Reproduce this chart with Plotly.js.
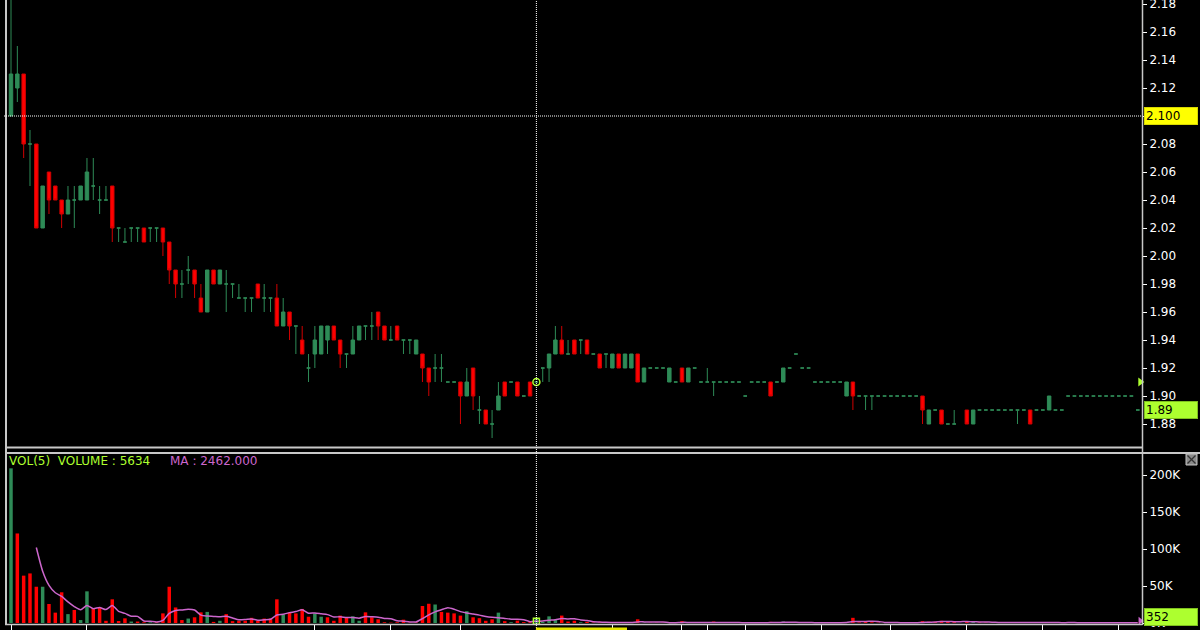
<!DOCTYPE html>
<html><head><meta charset="utf-8">
<script src="https://cdn.plot.ly/plotly-3.0.1.min.js"></script>
<style>html,body{margin:0;padding:0;background:#000;}#chart{width:1200px;height:630px;}</style>
</head><body><div id="chart"></div>
<script>
// ---- data ----
const openP = [
2.10,2.12,2.13,2.08,2.08,2.02,2.06,2.05,2.04,2.03,
2.04,2.04,2.04,2.05,2.04,2.04,2.05,2.02,2.01,2.02,
2.02,2.02,2.02,2.02,2.02,2.01,1.99,1.98,1.99,1.99,
1.97,1.96,1.99,1.98,1.98,1.98,1.97,1.97,1.97,1.98,
1.97,1.97,1.97,1.95,1.96,1.95,1.94,1.92,1.93,1.93,
1.94,1.95,1.94,1.93,1.93,1.94,1.95,1.95,1.96,1.95,
1.94,1.95,1.94,1.94,1.93,1.93,1.92,1.92,1.92,1.91,
1.91,1.91,1.90,1.92,1.89,1.89,1.88,1.89,1.91,1.91,
1.91,1.90,1.91,1.91,1.92,1.92,1.93,1.94,1.93,1.94,
1.94,1.94,1.93,1.93,1.93,1.92,1.93,1.92,1.92,1.93,
1.91,1.92,1.92,1.92,1.91,1.91,1.92,1.91,1.92,1.91,
1.91,1.91,1.91,1.91,1.91,1.91,1.90,1.91,1.91,1.91,
1.91,1.91,1.91,1.92,1.93,1.92,1.92,1.91,1.91,1.91,
1.91,1.91,1.90,1.91,1.90,1.90,1.90,1.90,1.90,1.90,
1.90,1.90,1.90,1.90,1.90,1.88,1.89,1.89,1.88,1.88,
null,1.89,1.88,1.89,1.89,1.89,1.89,1.89,1.89,1.89,
1.89,1.89,1.89,1.89,1.89,1.89,1.89,1.90,1.90,1.90,
1.90,1.90,1.90,1.90,1.90,1.90,1.90,1.90,1.89];
const highP = [
2.19,2.15,2.13,2.09,2.08,2.05,2.06,2.05,2.04,2.05,
2.05,2.05,2.07,2.07,2.05,2.05,2.05,2.02,2.02,2.02,
2.02,2.02,2.02,2.02,2.02,2.01,1.99,1.99,2.00,1.99,
1.98,1.99,1.99,1.99,1.99,1.98,1.98,1.97,1.97,1.98,
1.98,1.97,1.98,1.97,1.96,1.95,1.95,1.93,1.95,1.95,
1.95,1.95,1.94,1.93,1.95,1.95,1.95,1.96,1.96,1.95,
1.95,1.95,1.94,1.94,1.94,1.93,1.92,1.93,1.93,1.91,
1.91,1.91,1.92,1.92,1.90,1.89,1.89,1.91,1.91,1.91,
1.91,1.90,1.91,1.91,1.92,1.93,1.95,1.95,1.94,1.94,
1.94,1.94,1.93,1.93,1.93,1.93,1.93,1.93,1.93,1.93,
1.92,1.92,1.92,1.92,1.92,1.91,1.92,1.92,1.92,1.91,
1.92,1.91,1.91,1.91,1.91,1.91,1.90,1.91,1.91,1.91,
1.91,1.91,1.92,1.92,1.93,1.92,1.92,1.91,1.91,1.91,
1.91,1.91,1.91,1.91,1.90,1.90,1.90,1.90,1.90,1.90,
1.90,1.90,1.90,1.90,1.90,1.89,1.89,1.89,1.88,1.89,
null,1.89,1.89,1.89,1.89,1.89,1.89,1.89,1.89,1.89,
1.89,1.89,1.89,1.89,1.90,1.89,1.89,1.90,1.90,1.90,
1.90,1.90,1.90,1.90,1.90,1.90,1.90,1.90,1.89];
const lowP = [
2.10,2.11,2.07,2.05,2.02,2.02,2.03,2.04,2.02,2.03,
2.02,2.04,2.04,2.04,2.03,2.04,2.01,2.01,2.01,2.01,
2.01,2.01,2.01,2.01,2.00,1.98,1.97,1.97,1.98,1.97,
1.96,1.96,1.98,1.98,1.96,1.97,1.97,1.96,1.96,1.97,
1.96,1.96,1.95,1.95,1.94,1.93,1.93,1.91,1.92,1.93,
1.93,1.94,1.92,1.92,1.93,1.94,1.94,1.94,1.94,1.94,
1.94,1.94,1.93,1.93,1.93,1.91,1.90,1.91,1.91,1.91,
1.91,1.88,1.90,1.89,1.88,1.88,1.87,1.89,1.90,1.91,
1.90,1.90,1.90,1.91,1.91,1.91,1.93,1.93,1.93,1.93,
1.93,1.93,1.93,1.92,1.92,1.92,1.92,1.92,1.92,1.91,
1.91,1.92,1.92,1.92,1.91,1.91,1.91,1.91,1.92,1.91,
1.91,1.90,1.91,1.91,1.91,1.91,1.90,1.91,1.91,1.91,
1.90,1.91,1.91,1.92,1.93,1.92,1.92,1.91,1.91,1.91,
1.91,1.91,1.90,1.89,1.90,1.89,1.89,1.90,1.90,1.90,
1.90,1.90,1.90,1.90,1.88,1.88,1.89,1.88,1.88,1.88,
null,1.88,1.88,1.89,1.89,1.89,1.89,1.89,1.89,1.88,
1.89,1.88,1.89,1.89,1.89,1.89,1.89,1.90,1.90,1.90,
1.90,1.90,1.90,1.90,1.90,1.90,1.90,1.90,1.89];
const closeP = [
2.13,2.13,2.08,2.08,2.02,2.05,2.04,2.04,2.03,2.04,
2.04,2.05,2.06,2.05,2.04,2.04,2.02,2.02,2.01,2.02,
2.02,2.01,2.02,2.02,2.01,1.99,1.98,1.98,1.99,1.98,
1.96,1.99,1.98,1.99,1.98,1.98,1.97,1.97,1.97,1.97,
1.97,1.97,1.95,1.96,1.95,1.95,1.93,1.92,1.94,1.95,
1.95,1.94,1.93,1.93,1.94,1.95,1.95,1.95,1.95,1.94,
1.94,1.94,1.94,1.94,1.94,1.92,1.91,1.92,1.92,1.91,
1.91,1.90,1.91,1.90,1.89,1.88,1.88,1.90,1.90,1.91,
1.90,1.90,1.90,1.91,1.92,1.93,1.94,1.93,1.93,1.93,
1.94,1.93,1.93,1.92,1.93,1.93,1.92,1.93,1.93,1.91,
1.92,1.92,1.92,1.92,1.92,1.91,1.91,1.92,1.92,1.91,
1.91,1.91,1.91,1.91,1.91,1.91,1.90,1.91,1.91,1.91,
1.90,1.91,1.92,1.92,1.93,1.92,1.92,1.91,1.91,1.91,
1.91,1.91,1.91,1.90,1.90,1.90,1.90,1.90,1.90,1.90,
1.90,1.90,1.90,1.90,1.89,1.89,1.89,1.88,1.88,1.88,
null,1.88,1.89,1.89,1.89,1.89,1.89,1.89,1.89,1.89,
1.89,1.88,1.89,1.89,1.90,1.89,1.89,1.90,1.90,1.90,
1.90,1.90,1.90,1.90,1.90,1.90,1.90,1.90,1.89];
const volume = [
209000,121000,64000,67000,49000,49000,25700,14000,41500,12000,
17600,4000,42800,19800,21000,3000,32000,2700,6300,2000,
2000,1000,1000,1000,13000,49000,21000,4000,6000,7700,
14400,15000,1500,3000,12000,2500,3000,3000,7000,3000,
6000,6000,32000,12000,14000,13000,19000,8500,13000,8500,
7700,3000,10000,7700,9000,3000,14400,7700,5000,1000,
500,1000,4500,500,800,23000,26000,25000,15000,14000,
13000,10000,16000,7700,6500,3000,5000,14000,2500,1100,
3200,1200,1176,5634,1500,9000,5000,10000,2000,3000,
1000,1500,600,800,500,600,900,400,700,5000,
600,300,400,300,500,400,2500,500,300,400,
300,2000,300,200,300,200,500,300,200,300,
1500,300,2000,400,300,500,400,300,500,300,
600,400,1200,7000,800,1500,1000,500,400,300,
500,400,300,500,2500,1800,1500,3000,1500,1200,
null,2500,1500,800,600,500,400,600,500,1000,
400,1200,300,400,1000,300,200,800,300,200,
300,200,300,200,300,200,300,500,352];
const priceTicks = [1.88,1.90,1.92,1.94,1.96,1.98,2.00,2.02,2.04,2.06,2.08,2.10,2.12,2.14,2.16,2.18];
const volTicks = [0,50000,100000,150000,200000];
const volTickText = ['0K','50K','100K','150K','200K'];
const timeTicks = [0,12,48,60,71,95,106,110,116,128,139,151,163,175];
const cursorIndex = 83;
const cursorPrice = 2.10;
const markerPrice = 1.91;
const maPeriod = 5;

// ---- derived ----
const N = closeP.length;
const idx = [...Array(N).keys()];
const valid = idx.filter(i => closeP[i] !== null);
const upIdx = valid.filter(i => closeP[i] >= openP[i]);
const dnIdx = valid.filter(i => closeP[i] < openP[i]);
const pick = (arr, ids) => ids.map(i => arr[i]);
const GREEN = '#2e8b57', RED = '#ff0000', VIOLET = '#cc66cc', LIME = '#adff2f';

let prevC = null;
const volColor = idx.map(i => {
  const c = closeP[i];
  const col = (prevC === null || (c !== null && c > prevC)) ? GREEN : RED;
  if (c !== null) prevC = c;
  return col;
});
const ma = idx.map(i => {
  if (i < maPeriod - 1) return null;
  const w = volume.slice(i - maPeriod + 1, i + 1).filter(v => v !== null);
  return w.reduce((a, b) => a + b, 0) / w.length;
});

function candle(ids, fill, line) {
  return {
    type: 'candlestick', x: ids,
    open: pick(openP, ids), high: pick(highP, ids), low: pick(lowP, ids), close: pick(closeP, ids),
    xaxis: 'x', yaxis: 'y', whiskerwidth: 0, hoverinfo: 'skip', showlegend: false,
    increasing: { line: { color: line, width: 1 }, fillcolor: fill },
    decreasing: { line: { color: line, width: 1 }, fillcolor: fill }
  };
}

const traces = [
  candle(upIdx, GREEN, GREEN),
  candle(dnIdx, RED, '#d00000'),
  { type: 'bar', x: valid, y: pick(volume, valid), xaxis: 'x', yaxis: 'y2', width: 0.55,
    marker: { color: pick(volColor, valid), line: { width: 0 } }, hoverinfo: 'skip', showlegend: false },
  { type: 'scatter', mode: 'lines', x: idx, y: ma, xaxis: 'x', yaxis: 'y2', connectgaps: true,
    line: { color: VIOLET, width: 1.5, shape: 'spline', smoothing: 0.6 }, hoverinfo: 'skip', showlegend: false },
  { type: 'scatter', mode: 'markers', x: [cursorIndex], y: [closeP[cursorIndex]], xaxis: 'x', yaxis: 'y',
    marker: { symbol: 'circle-open', size: 7, color: LIME, line: { width: 1.5, color: LIME } }, hoverinfo: 'skip', showlegend: false },
  { type: 'scatter', mode: 'markers', x: [cursorIndex], y: [ma[cursorIndex]], xaxis: 'x', yaxis: 'y2',
    marker: { symbol: 'square-open', size: 6, color: LIME, line: { width: 1.5, color: LIME } }, hoverinfo: 'skip', showlegend: false },
  { type: 'scatter', mode: 'markers', x: [N - 0.6], y: [markerPrice], xaxis: 'x', yaxis: 'y', cliponaxis: false,
    marker: { symbol: 'triangle-right', size: 8, color: LIME }, hoverinfo: 'skip', showlegend: false },
  { type: 'scatter', mode: 'markers', x: [N - 0.6], y: [ma[N - 1] + 2500], xaxis: 'x', yaxis: 'y2', cliponaxis: false,
    marker: { symbol: 'triangle-right', size: 7, color: VIOLET }, hoverinfo: 'skip', showlegend: false }
];

const W = 1200, H = 630;
const px = v => v / W, py = v => 1 - v / H;
const FONT = 'DejaVu Sans, Verdana, sans-serif';
const tickFont = { family: FONT, size: 12, color: '#ffffff' };
const BORDER = '#c8c8c8';

const shapes = [
  { type: 'line', xref: 'paper', yref: 'paper', x0: px(6), x1: px(6), y0: 1, y1: py(625), line: { color: BORDER, width: 2 } },
  { type: 'line', xref: 'paper', yref: 'paper', x0: px(5), x1: px(1142.5), y0: py(447.5), y1: py(447.5), line: { color: BORDER, width: 2 } },
  { type: 'line', xref: 'paper', yref: 'paper', x0: px(5), x1: 1, y0: py(453), y1: py(453), line: { color: BORDER, width: 2 } },
  { type: 'line', xref: 'paper', yref: 'paper', x0: px(1142.5), x1: px(1142.5), y0: 1, y1: py(625), line: { color: BORDER, width: 1.5 } },
  { type: 'line', xref: 'paper', yref: 'paper', x0: px(5), x1: px(1142.5), y0: py(624.5), y1: py(624.5), line: { color: BORDER, width: 1.5 } },
  { type: 'line', xref: 'x', yref: 'paper', x0: cursorIndex, x1: cursorIndex, y0: 0, y1: 1, line: { color: '#ffffff', width: 1, dash: '1px,1px' } },
  { type: 'line', xref: 'paper', yref: 'y', x0: px(4), x1: px(1142), y0: cursorPrice, y1: cursorPrice, line: { color: '#ffffff', width: 1, dash: '1px,1px' } },
  { type: 'rect', xref: 'paper', yref: 'paper', x0: px(536), x1: px(627), y0: 0, y1: py(627.5), fillcolor: '#e4e400', line: { width: 0 } },
  { type: 'rect', xref: 'paper', yref: 'paper', x0: px(1186), x1: px(1197), y0: py(465), y1: py(454), fillcolor: '#8a8a8a', line: { color: '#c0c0c0', width: 1 } },
  { type: 'line', xref: 'paper', yref: 'paper', x0: px(1187.5), x1: px(1195.5), y0: py(455.5), y1: py(463.5), line: { color: '#333333', width: 1.2 } },
  { type: 'line', xref: 'paper', yref: 'paper', x0: px(1187.5), x1: px(1195.5), y0: py(463.5), y1: py(455.5), line: { color: '#333333', width: 1.2 } }
];

function boxLabel(text, y, yref, bg, border) {
  return { xref: 'paper', x: px(1144), xanchor: 'left', yref: yref, y: y, yanchor: 'middle',
    text: text, showarrow: false, bgcolor: bg, bordercolor: border, borderwidth: 1, borderpad: 1,
    width: 50, height: 14, align: 'left', font: { family: FONT, size: 12, color: '#000000' } };
}

const annotations = [
  boxLabel(cursorPrice.toFixed(3), cursorPrice, 'y', '#ffff00', '#d8d800'),
  boxLabel(closeP[N - 1].toFixed(2), closeP[N - 1], 'y', LIME, '#7fbf1f'),
  boxLabel(String(volume[N - 1]), 7600, 'y2', LIME, '#7fbf1f'),
  { xref: 'paper', yref: 'paper', x: px(7), y: py(461), xanchor: 'left', yanchor: 'middle', showarrow: false,
    text: 'VOL(' + maPeriod + ')\u00a0\u00a0VOLUME : ' + volume[cursorIndex],
    font: { family: FONT, size: 12, color: LIME } },
  { xref: 'paper', yref: 'paper', x: px(168), y: py(461), xanchor: 'left', yanchor: 'middle', showarrow: false,
    text: 'MA : ' + ma[cursorIndex].toFixed(3),
    font: { family: FONT, size: 12, color: VIOLET } }
];

// the cursor-price tick label is covered by the cursor box in the reference
const priceTickText = priceTicks.map(v => Math.abs(v - cursorPrice) < 1e-9 ? '' : v.toFixed(2));

const layout = {
  width: W, height: H, margin: { l: 0, r: 0, t: 0, b: 0 },
  paper_bgcolor: '#000000', plot_bgcolor: '#000000', showlegend: false,
  font: { family: FONT, size: 12, color: '#ffffff' },
  boxgap: 0.22,
  xaxis: { domain: [px(7), px(1142)], range: [-0.632, 178.67], anchor: 'y2',
    showgrid: false, zeroline: false, showline: false,
    tickmode: 'array', tickvals: timeTicks, ticks: 'outside', ticklen: 5, tickwidth: 1, tickcolor: '#ffffff',
    showticklabels: false, rangeslider: { visible: false }, fixedrange: true },
  yaxis: { domain: [py(447), 1], range: [1.863571, 2.182857], side: 'right', anchor: 'x',
    tickmode: 'array', tickvals: priceTicks, ticktext: priceTickText,
    ticks: 'outside', ticklen: 4, tickwidth: 1, tickcolor: '#ffffff', tickfont: tickFont,
    ticklabeloverflow: 'allow',
    showgrid: false, zeroline: false, showline: false, fixedrange: true },
  yaxis2: { domain: [py(624), py(453)], range: [-1351, 229730], side: 'right', anchor: 'x',
    tickmode: 'array', tickvals: volTicks, ticktext: volTickText,
    ticks: 'outside', ticklen: 4, tickwidth: 1, tickcolor: '#ffffff', tickfont: tickFont,
    ticklabeloverflow: 'allow',
    showgrid: false, zeroline: false, showline: false, fixedrange: true },
  shapes: shapes,
  annotations: annotations
};

Plotly.newPlot('chart', traces, layout, { staticPlot: true, displayModeBar: false });
</script>
</body></html>
